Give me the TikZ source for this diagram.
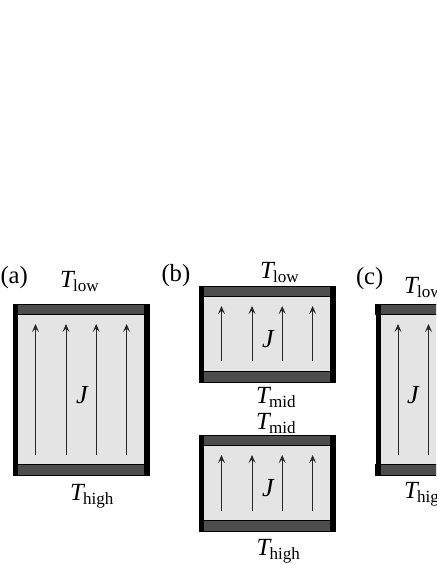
\documentclass[tikz,border=0pt]{standalone}
\usepackage{fontspec}
\setmainfont{Liberation Serif}
\usetikzlibrary{arrows.meta}
\definecolor{bandgray}{HTML}{4D4D4D}
\definecolor{cellgray}{HTML}{E4E4E4}
\tikzset{
  cellfill/.style={fill=cellgray,draw=none},
  bandfill/.style={fill=bandgray,draw=black,line width=0.5pt},
  barfill/.style={fill=black,draw=none},
  fluxarrow/.style={draw=black!85,line width=0.65pt,-{Stealth[length=6pt,width=5.2pt,inset=2.6pt]}},
  lab/.style={anchor=base west,inner sep=0pt,outer sep=0pt,font=\fontsize{18.5pt}{21pt}\selectfont},
  fluxlab/.style={lab,font=\fontsize{19.5pt}{21pt}\selectfont\itshape,text=black,draw=none},
}
\newcommand{\Tsub}[1]{\textit{T}\kern-1.5pt\raisebox{-3pt}{\fontsize{12.8pt}{14pt}\selectfont #1}}
\newcommand{\cellbox}[5]{%
  \def\xl{#1}\def\yt{#2}\def\yb{#3}%
  \pgfmathsetmacro{\xr}{\xl+136.5}
  \pgfmathsetmacro{\bl}{\xl+5.3}
  \pgfmathsetmacro{\br}{\xr-5.3}
  \fill[cellfill] (\xl,-\yt) rectangle (\xr,-\yb);
  \pgfmathsetmacro{\ta}{\yt+10.5}
  \pgfmathsetmacro{\tb}{\yb-10.5}
  \draw[bandfill] (\xl,-\yt) rectangle (\xr,-\ta);
  \draw[bandfill] (\xl,-\tb) rectangle (\xr,-\yb);
  \fill[barfill] (\xl,-\yt) rectangle (\bl,-\yb);
  \fill[barfill] (\br,-\yt) rectangle (\xr,-\yb);
  \foreach \dx in {22.5,53,83.2,113.6}{
    \pgfmathsetmacro{\ax}{\xl+\dx}
    \coordinate (tail) at (\ax,-#5);
    \coordinate (tip) at (\ax,-#4);
    \draw[fluxarrow] (tail) -- (tip);
  }
}
\begin{document}
\begin{tikzpicture}[x=0.75pt,y=0.75pt]
\useasboundingbox (0,0) rectangle (436,-564);
\clip (0,0) rectangle (436,-564);
\cellbox{13}{304}{475}{324}{455}
\cellbox{199}{286}{382}{306}{361}
\cellbox{199}{435}{531}{455}{511}
\cellbox{375.5}{304}{475}{324}{455}
\node[lab] (la) at (0.5,-283) {(a)};
\node[lab] (lb) at (161.5,-281.5) {(b)};
\node[lab] (lc) at (356,-284) {(c)};
\node[lab] (t1) at (60,-287) {\Tsub{low}};
\node[lab] (t2) at (70,-500) {\Tsub{high}};
\node[lab] (t3) at (260,-278) {\Tsub{low}};
\node[lab] (t4) at (256,-403) {\Tsub{mid}};
\node[lab] (t5) at (256,-429) {\Tsub{mid}};
\node[lab] (t6) at (256.5,-555.5) {\Tsub{high}};
\node[lab] (t7) at (404,-293) {\Tsub{low}};
\node[lab] (t8) at (404,-498) {\Tsub{high}};
\node[fluxlab] (j1) at (76,-403) {J};
\node[fluxlab] (j2) at (262,-347) {J};
\node[fluxlab] (j3) at (262,-496) {J};
\node[fluxlab] (j4) at (407,-403) {J};
\end{tikzpicture}
\end{document}
